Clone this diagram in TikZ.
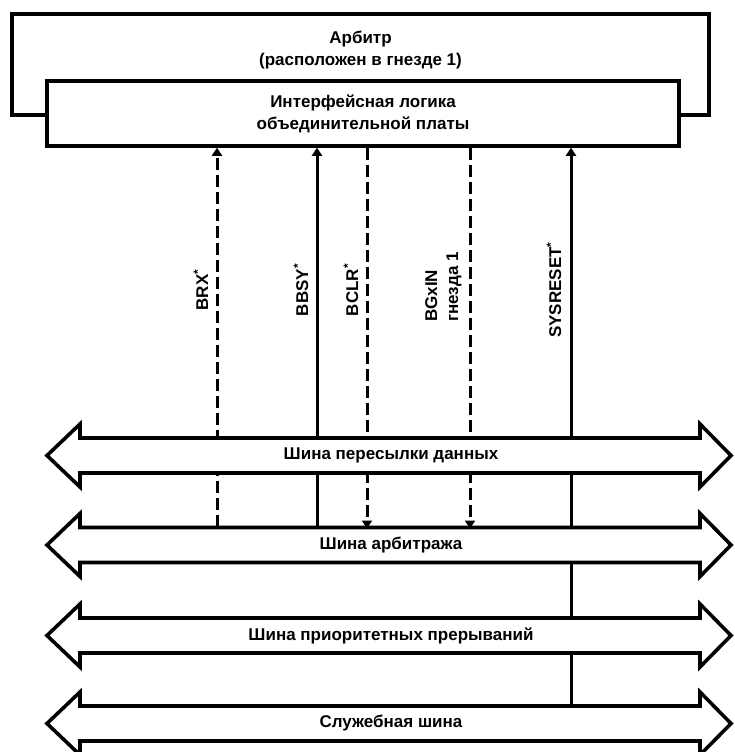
\documentclass[tikz,border=0pt]{standalone}
\usepackage{fontspec}
\setmainfont{Liberation Sans}
\usetikzlibrary{arrows.meta}
\begin{document}
\begin{tikzpicture}[x=1pt,y=-1pt,
  boxline/.style={draw=black,line width=3.5pt,fill=white},
  bus/.style={draw=black,line width=3.6pt,fill=white,line join=miter},
  txt/.style={font=\bfseries\fontsize{17}{22}\selectfont,align=center,inner sep=0pt},
  sigtxt/.style={font=\bfseries\fontsize{17}{21}\selectfont,align=left,inner sep=0pt,rotate=90},
  sig/.style={line width=3pt},
  sigdash/.style={sig,dash pattern=on 12pt off 5pt},
  tip/.style={-{Triangle[width=10pt,length=8pt]}}]
\useasboundingbox (0,0) rectangle (734,752);
% arbiter box
\node[boxline,minimum width=697pt,minimum height=101pt,inner sep=0pt] (arb) at (360.5,64.5) {};
\node[txt] (arbtxt) at (360.5,50) {Арбитр\\(расположен в гнезде 1)};
% interface logic box
\node[boxline,minimum width=632pt,minimum height=65pt,inner sep=0pt] (iface) at (363,113.5) {};
\node[txt] (ifacetxt) at (363,114) {Интерфейсная логика\\объединительной платы};
% line positions
\coordinate (brx) at (217,527);
\coordinate (bbsy) at (317,527);
\coordinate (bclr) at (367,527);
\coordinate (bgin) at (470,527);
\coordinate (sysr) at (571,704);
% signal lines
\draw[sigdash,tip] (brx) -- (brx |- iface.south);
\draw[sig,tip] (bbsy) -- (bbsy |- iface.south);
\draw[sigdash,tip] (bclr |- iface.south) -- ([yshift=-1.5pt]bclr);
\draw[sigdash,tip] (bgin |- iface.south) -- ([yshift=-1.5pt]bgin);
\draw[sig,tip] (sysr) -- (sysr |- iface.south);
% buses
\foreach \yy/\nm/\btxt in {455.5/b1/Шина пересылки данных,545/b2/Шина арбитража,635.5/b3/Шина приоритетных прерываний,723.5/b4/Служебная шина}{
  \path[bus] (47,\yy) -- ++(33,-31.5) -- ++(0,14) -- ++(620,0) -- ++(0,-14) -- ++(31,31.5)
    -- ++(-31,31.5) -- ++(0,-14) -- ++(-620,0) -- ++(0,14) -- cycle;
  \node[txt] (\nm) at (391,\yy) {\btxt};
}
% signal labels
\node[sigtxt] (lbrx) at (201,290) {BRX\textsuperscript{*}};
\node[sigtxt] (lbbsy) at (301,290) {BBSY\textsuperscript{*}};
\node[sigtxt] (lbclr) at (351,290) {BCLR\textsuperscript{*}};
\node[sigtxt] (lbgin) at (443.5,287) {BGxIN\\гнезда 1};
\node[sigtxt] (lsysr) at (554,290) {SYSRESET\textsuperscript{*}};
\end{tikzpicture}
\end{document}
